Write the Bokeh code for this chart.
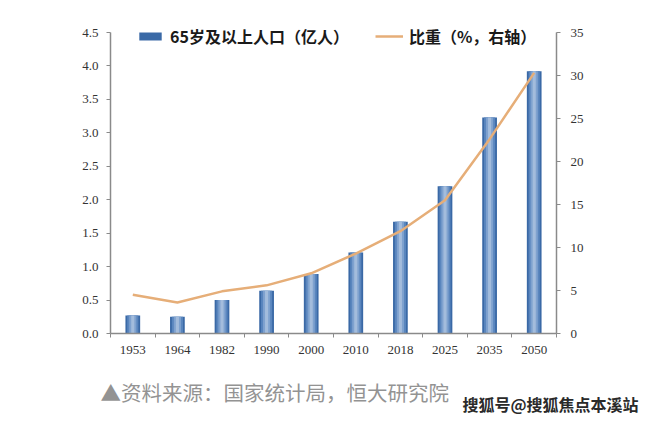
from bokeh.plotting import figure
from bokeh.layouts import column, row
from bokeh.models import (Range1d, LinearAxis, FixedTicker, Legend, LegendItem,
                          ColumnDataSource, Label)
from bokeh.embed import file_html
from bokeh.resources import INLINE

years = ["1953", "1964", "1982", "1990", "2000", "2010", "2018", "2025", "2035", "2050"]
pop65 = [0.27, 0.25, 0.50, 0.64, 0.89, 1.21, 1.67, 2.20, 3.23, 3.92]
share = [4.5, 3.6, 4.9, 5.6, 7.0, 9.3, 11.9, 15.5, 22.6, 30.3]
left_ticks = [0.0, 0.5, 1.0, 1.5, 2.0, 2.5, 3.0, 3.5, 4.0, 4.5]
right_ticks = [0, 5, 10, 15, 20, 25, 30, 35]

bar_label = "65岁及以上人口（亿人）"
line_label = "比重（%，右轴）"
source_text = "▲资料来源：国家统计局，恒大研究院"
watermark = "搜狐号@搜狐焦点本溪站"

xs = list(range(len(years)))
src = ColumnDataSource(dict(x=xs, pop=pop65, share=share))

# frame extends 8px above the top tick so the legend fits; axes are bounded
head = 309 / 301
p = figure(width=640, height=370, output_backend="svg", toolbar_location=None,
           x_range=Range1d(-0.5, len(years) - 0.5),
           y_range=Range1d(0, left_ticks[-1] * head),
           min_border_left=110, min_border_right=84, min_border_top=24,
           min_border_bottom=37)
p.outline_line_color = None
p.grid.visible = False
p.background_fill_color = "white"
p.border_fill_color = "white"

axis_color = "#8a8a8a"
label_color = "#333333"
serif = "Liberation Serif"

xa = p.xaxis[0]
xa.ticker = FixedTicker(ticks=xs, minor_ticks=[i - 0.5 for i in range(len(years) + 1)])
xa.major_label_overrides = {i: y for i, y in enumerate(years)}
xa.major_tick_line_color = None
xa.minor_tick_line_color = axis_color
xa.minor_tick_out = 4
xa.minor_tick_in = 0
xa.axis_line_color = axis_color
xa.axis_line_width = 1.5
xa.major_label_text_font = serif
xa.major_label_text_font_size = "13px"
xa.major_label_text_color = label_color
xa.major_label_standoff = 6

ya = p.yaxis[0]
ya.ticker = FixedTicker(ticks=left_ticks)
ya.bounds = (left_ticks[0], left_ticks[-1])
ya.major_label_overrides = {v: f"{v:.1f}" for v in left_ticks}
ya.major_label_overrides[0] = "0.0"
ya.minor_tick_line_color = None
ya.major_tick_out = 4
ya.major_tick_in = 0
ya.major_tick_line_color = axis_color
ya.axis_line_color = axis_color
ya.axis_line_width = 1.5
ya.major_label_text_font = serif
ya.major_label_text_font_size = "13px"
ya.major_label_text_color = label_color
ya.major_label_standoff = 8

p.extra_y_ranges = {"pct": Range1d(0, right_ticks[-1] * head)}
ra = LinearAxis(y_range_name="pct", ticker=FixedTicker(ticks=right_ticks))
ra.bounds = (right_ticks[0], right_ticks[-1])
ra.minor_tick_line_color = None
ra.major_tick_out = 4
ra.major_tick_in = 0
ra.major_tick_line_color = axis_color
ra.axis_line_color = axis_color
ra.axis_line_width = 1.5
ra.major_label_text_font = serif
ra.major_label_text_font_size = "13px"
ra.major_label_text_color = label_color
ra.major_label_standoff = 10
p.add_layout(ra, "right")

# bars with a pseudo-gradient (dark edges, light centre)
r_bar = p.vbar(x="x", top="pop", width=0.33, source=src, fill_color="#3a69a6", line_color=None)
p.vbar(x="x", top="pop", width=0.25, source=src, fill_color="#5a86be", line_color=None)
p.vbar(x="x", top="pop", width=0.16, source=src, fill_color="#7fa2cf", line_color=None)
p.vbar(x="x", top="pop", width=0.07, source=src, fill_color="#a3bcdc", line_color=None)

r_line = p.line(x="x", y="share", source=src, y_range_name="pct",
                line_color="#e6ae78", line_width=2.5)

legend = Legend(items=[LegendItem(label=bar_label, renderers=[r_bar]),
                       LegendItem(label=line_label, renderers=[r_line])],
                orientation="horizontal", location="top_left",
                background_fill_alpha=0, border_line_color=None,
                padding=0, margin=0, spacing=26, label_standoff=6,
                glyph_width=28, glyph_height=10, label_height=18,
                label_text_font="Noto Sans CJK SC", label_text_font_style="bold",
                label_text_font_size="16px", label_text_color="#1a1a1a")
legend.location = (26, 309 - 24)
p.add_layout(legend, "center")

# footnote strip
f = figure(width=640, height=50, output_backend="svg", toolbar_location=None,
           x_range=Range1d(0, 640), y_range=Range1d(0, 50),
           x_axis_location=None, y_axis_location=None,
           min_border=0, outline_line_color=None)
f.grid.visible = False
f.add_layout(Label(x=100, y=14, x_units="screen", y_units="screen", text=source_text,
                   text_font="Noto Sans CJK SC", text_font_size="20.5px",
                   text_color="#939393"))
f.add_layout(Label(x=462, y=5, x_units="screen", y_units="screen", text=watermark,
                   text_font="Noto Sans CJK SC", text_font_size="16px",
                   text_font_style="bold", text_color="#2a2a2a"))

open("out.html", "w").write(file_html(column(p, row(f), spacing=0), INLINE))
